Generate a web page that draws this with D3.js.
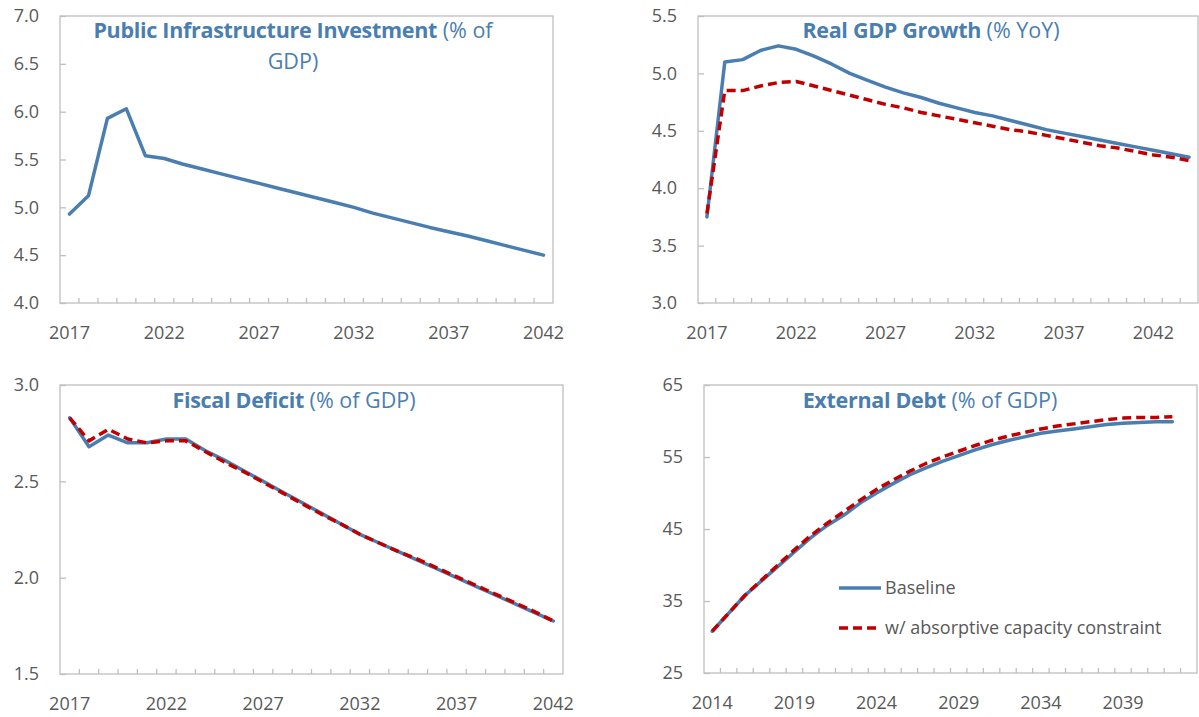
<!DOCTYPE html>
<html>
<head>
<meta charset="utf-8">
<script src="https://cdn.jsdelivr.net/npm/d3@7"></script>
<style>
  html, body { margin: 0; padding: 0; background: #ffffff; }
  svg { display: block; }
  text { font-family: "Open Sans", "Noto Sans", sans-serif; }
</style>
</head>
<body>
<svg id="chart" width="1199" height="717"></svg>
<script>
// ---------------- DATA ----------------
const yearsPI = d3.range(2017, 2043);            // 2017..2042
const piBaseline = [4.93, 5.12, 5.93, 6.03, 5.54, 5.51, 5.45, 5.40, 5.35, 5.30, 5.25, 5.20, 5.15,
                    5.10, 5.05, 5.00, 4.94, 4.89, 4.84, 4.79, 4.745, 4.70, 4.65, 4.60, 4.55, 4.50];
const piTicks = [4.0, 4.5, 5.0, 5.5, 6.0, 6.5, 7.0];
const piLabels = [2017, 2022, 2027, 2032, 2037, 2042];

const yearsGDP = d3.range(2017, 2045);           // 2017..2044
const gdpBaseline = [3.75, 5.10, 5.12, 5.20, 5.24, 5.21, 5.15, 5.08, 5.00, 4.94, 4.88, 4.83, 4.79, 4.74,
                     4.70, 4.66, 4.63, 4.59, 4.55, 4.51, 4.48, 4.45, 4.42, 4.39, 4.36, 4.33, 4.30, 4.27];
const gdpConstrained = [3.78, 4.85, 4.85, 4.89, 4.92, 4.93, 4.89, 4.85, 4.81, 4.77, 4.73, 4.70, 4.66, 4.63,
                        4.60, 4.57, 4.54, 4.51, 4.49, 4.46, 4.43, 4.40, 4.37, 4.35, 4.32, 4.29, 4.27, 4.24];
const gdpTicks = [3.0, 3.5, 4.0, 4.5, 5.0, 5.5];
const gdpLabels = [2017, 2022, 2027, 2032, 2037, 2042];

const yearsFD = d3.range(2017, 2043);            // 2017..2042
const fdBaseline = [2.83, 2.68, 2.74, 2.70, 2.70, 2.72, 2.72, 2.66, 2.61, 2.555, 2.50, 2.445, 2.39,
                    2.335, 2.28, 2.225, 2.18, 2.135, 2.09, 2.045, 2.00, 1.955, 1.91, 1.865, 1.82, 1.775];
const fdConstrained = [2.83, 2.71, 2.77, 2.72, 2.70, 2.71, 2.71, 2.655, 2.60, 2.55, 2.495, 2.44, 2.385,
                       2.33, 2.28, 2.225, 2.18, 2.135, 2.095, 2.05, 2.005, 1.96, 1.915, 1.87, 1.825, 1.775];
const fdTicks = [1.5, 2.0, 2.5, 3.0];
const fdLabels = [2017, 2022, 2027, 2032, 2037, 2042];

const yearsED = d3.range(2014, 2044);            // 2014..2043 (categories)
const edBaseline = [30.8, 33.3, 35.8, 37.8, 39.8, 41.8, 43.8, 45.5, 46.9, 48.6, 50.0, 51.3, 52.5, 53.5, 54.4,
                    55.2, 56.0, 56.7, 57.3, 57.8, 58.3, 58.6, 58.9, 59.2, 59.5, 59.7, 59.8, 59.9, 59.9];
const edConstrained = [30.8, 33.3, 35.8, 37.9, 40.0, 42.1, 44.1, 45.8, 47.4, 49.0, 50.5, 51.8, 53.0, 54.1, 55.0,
                       55.8, 56.6, 57.3, 57.9, 58.4, 58.9, 59.3, 59.6, 59.9, 60.2, 60.4, 60.5, 60.5, 60.6];
const edTicks = [25, 35, 45, 55, 65];
const edLabels = [2014, 2019, 2024, 2029, 2034, 2039];

const seriesNames = ["Baseline", "w/ absorptive capacity constraint"];

// ---------------- STYLE ----------------
const BLUE = "#4A7EB0";
const RED = "#C00000";
const TITLE = "#4A7EB0";
const GRAY_TEXT = "#595959";
const AXIS = "#BFBFBF";
const TICK_FONT = 18;

const svg = d3.select("#chart");

function panel(cfg) {
  const { x0, x1, y0, y1, years, yDomain, yTicks, xLabels, series, yFmt, title } = cfg;
  const g = svg.append("g");
  const x = d3.scaleBand().domain(years).range([x0, x1]).padding(0);
  const y = d3.scaleLinear().domain(yDomain).range([y1, y0]);

  // plot border
  g.append("rect").attr("x", x0).attr("y", y0).attr("width", x1 - x0).attr("height", y1 - y0)
    .attr("fill", "none").attr("stroke", AXIS).attr("stroke-width", 1.3);

  // y axis (ticks inside)
  const ya = g.append("g").attr("transform", `translate(${x0},0)`)
    .call(d3.axisLeft(y).tickValues(yTicks).tickSize(-6).tickPadding(21).tickFormat(yFmt));
  ya.select(".domain").remove();
  ya.selectAll("line").attr("stroke", AXIS).attr("stroke-width", 1.3);
  ya.selectAll("text").attr("fill", GRAY_TEXT).attr("font-size", TICK_FONT)
    .attr("font-family", "'Open Sans', sans-serif");

  // x axis labels
  const xa = g.append("g").attr("transform", `translate(0,${y1})`)
    .call(d3.axisBottom(x).tickValues(xLabels).tickSize(0).tickPadding(23));
  xa.select(".domain").remove();
  xa.selectAll("text").attr("fill", GRAY_TEXT).attr("font-size", TICK_FONT)
    .attr("font-family", "'Open Sans', sans-serif");

  // category boundary tick marks (inside)
  g.append("g").selectAll("line").data(years.slice(1)).join("line")
    .attr("x1", d => x(d)).attr("x2", d => x(d))
    .attr("y1", y1).attr("y2", y1 - 5)
    .attr("stroke", AXIS).attr("stroke-width", 1.3);

  // series
  const line = d3.line().x((d, i) => x(years[i]) + x.bandwidth() / 2).y(d => y(d));
  series.forEach(s => {
    g.append("path").datum(s.values)
      .attr("d", line).attr("fill", "none")
      .attr("stroke", s.color).attr("stroke-width", s.width)
      .attr("stroke-dasharray", s.dash || null)
      .attr("stroke-linejoin", "round").attr("stroke-linecap", s.dash ? "butt" : "round");
  });

  // title
  title.lines.forEach((ln, i) => {
    const t = g.append("text").attr("x", title.cx).attr("y", title.y + i * 31)
      .attr("text-anchor", "middle").attr("font-size", 21.5).attr("fill", TITLE);
    if (ln.bold) t.append("tspan").attr("font-weight", "bold").attr("letter-spacing", "-0.3px").text(ln.bold);
    if (ln.normal) t.append("tspan").attr("font-weight", "normal").text(ln.normal);
  });
  return { x, y };
}

const f1 = d3.format(".1f");
const f0 = d3.format("d");

panel({
  x0: 60, x1: 553, y0: 16, y1: 303, years: yearsPI, yDomain: [4, 7], yTicks: piTicks, xLabels: piLabels, yFmt: f1,
  series: [{ values: piBaseline, color: BLUE, width: 3.5 }],
  title: { cx: 293, y: 38, lines: [{ bold: "Public Infrastructure Investment", normal: " (% of" }, { normal: "GDP)" }] }
});

panel({
  x0: 698, x1: 1198, y0: 16, y1: 303, years: yearsGDP, yDomain: [3, 5.5], yTicks: gdpTicks, xLabels: gdpLabels, yFmt: f1,
  series: [{ values: gdpBaseline, color: BLUE, width: 3.5 }, { values: gdpConstrained, color: RED, width: 3.5, dash: "9,5" }],
  title: { cx: 931, y: 38, lines: [{ bold: "Real GDP Growth", normal: " (% YoY)" }] }
});

panel({
  x0: 60, x1: 563, y0: 385, y1: 674, years: yearsFD, yDomain: [1.5, 3], yTicks: fdTicks, xLabels: fdLabels, yFmt: f1,
  series: [{ values: fdBaseline, color: BLUE, width: 3.5 }, { values: fdConstrained, color: RED, width: 3.5, dash: "9,5" }],
  title: { cx: 294, y: 408, lines: [{ bold: "Fiscal Deficit", normal: " (% of GDP)" }] }
});

panel({
  x0: 704, x1: 1197, y0: 385, y1: 673, years: yearsED, yDomain: [25, 65], yTicks: edTicks, xLabels: edLabels, yFmt: f0,
  series: [{ values: edBaseline, color: BLUE, width: 3.5 }, { values: edConstrained, color: RED, width: 3.5, dash: "9,5" }],
  title: { cx: 930, y: 408, lines: [{ bold: "External Debt", normal: " (% of GDP)" }] }
});

// legend (in External Debt panel)
const legend = svg.append("g");
const legendItems = [
  { name: seriesNames[0], color: BLUE, dash: null, y: 588 },
  { name: seriesNames[1], color: RED, dash: "9,5", y: 628 }
];
legendItems.forEach(it => {
  legend.append("line").attr("x1", 839).attr("x2", 881).attr("y1", it.y).attr("y2", it.y)
    .attr("stroke", it.color).attr("stroke-width", 3.5).attr("stroke-dasharray", it.dash);
  legend.append("text").attr("x", 885).attr("y", it.y + 6).attr("font-size", TICK_FONT)
    .attr("fill", GRAY_TEXT).text(it.name);
});
</script>
</body>
</html>
